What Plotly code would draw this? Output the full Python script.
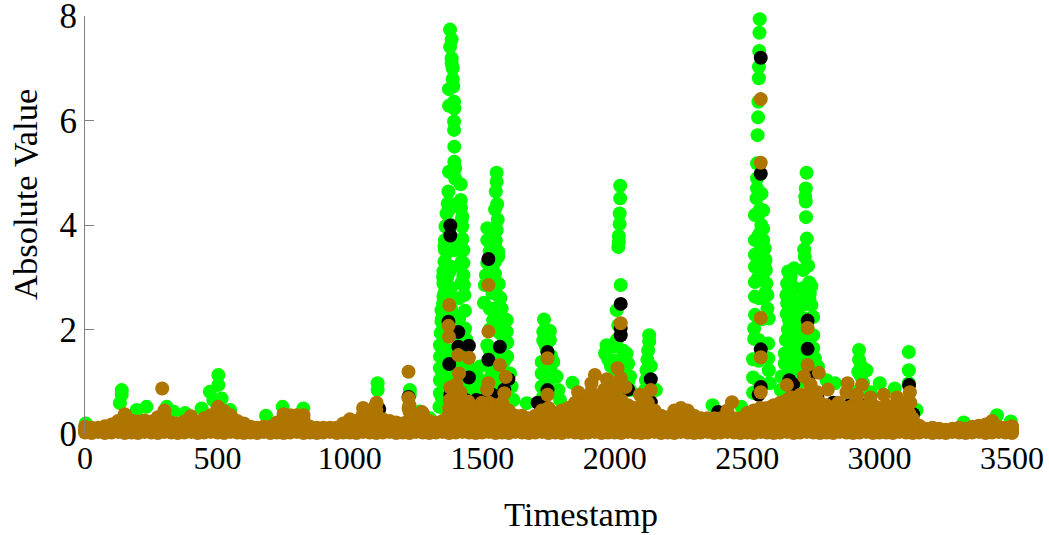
import plotly.graph_objects as go

x_ticks = [0, 500, 1000, 1500, 2000, 2500, 3000, 3500]
y_ticks = [0, 2, 4, 6, 8]

# Calibration between the pixel scale the readings were taken with and the ticks of the reference.
x_calibration = 1.0053

green_x = [1371,1377,1371,1377,1377,1381,1381,1383,1367,1386,1387,1367,1386,1386,1387,1387,1390,1367,1390,1411,1365,1362,1358,1354,1352,1352,1352,1346,1346,1346,1339,1339,1336,1333,1333,1333,1333,1333,1331,
 1411,1412,1417,1417,1417,1421,1390,1421,1408,1421,1423,1425,1427,1393,1427,1433,1396,1440,1483,1483,1483,1358,1358,1358,1360,1365,1400,1455,1470,
 1546,1546,1543,1548,1550,1511,1546,1511,1543,1552,1552,1511,1506,1540,1554,1502,1555,1498,1521,1533,1574,1584,1584,1586,1511,1586,1558,1596,1602,1609,1540,1520,1530,1535,1525,1560,1570,
 1724,1746,1721,1721,1746,1734,1715,1759,1715,1771,1715,1778,1721,1784,1659,1831,1730,1740,
 2010,2010,2008,2008,2005,2005,2003,2012,1997,2003,2034,1959,1953,1965,2040,2047,2047,1997,1984,2020,2015,1975,
 2119,2119,2115,2112,2109,2107,2103,2144,2125,
 2534,2533,2532,2531,2531,2529,2528,2526,2524,2524,2524,2522,2541,2547,2516,2547,2516,2547,2516,2553,2516,2556,2516,2557,2516,2559,2516,2563,2513,2563,2513,2568,2509,2566,2509,2566,2509,2568,2572,2534,2534,2534,2540,2535,2530,
 2641,2663,2637,2666,2634,2637,2666,2644,2672,2666,2632,2666,2628,2628,2672,2616,2613,2650,2650,2650,2645,2640,
 2710,2707,2705,2707,2708,2711,2701,2703,2716,2697,2728,2722,2728,2697,2735,2735,2735,2741,2685,2753,2700,2700,2720,
 2907,2907,2904,2935,2922,2816,2785,2985,3041,3094,3094,3094,3123,2357,2465,2870,2950,
 3,138,138,131,194,231,332,376,438,469,501,501,513,545,680,742,820,1099,1099,1220,1220,1258,307,482,1270,1295,3300,3425,3477]
green_y = [7.74,7.55,7.41,7.19,7.09,7.0,6.79,6.65,6.6,6.36,6.23,6.28,5.98,5.82,5.5,5.21,5.08,5.02,4.89,4.78,4.64,4.41,4.22,3.97,3.71,3.52,3.3,3.11,2.88,2.63,2.37,2.15,1.93,1.7,1.48,1.26,1.03,.78,.52,
 4.48,4.32,4.16,3.97,3.74,3.52,3.52,3.27,3.2,3.04,2.85,2.66,2.36,2.24,2.02,1.8,1.58,1.29,1.29,1.03,.78,3.0,2.5,2.0,1.5,1.0,1.2,.95,.85,
 5.0,4.83,4.64,4.4,4.1,3.94,3.9,3.71,3.7,3.49,3.39,3.27,3.04,3.07,2.87,2.85,2.63,2.51,2.4,2.18,2.21,2.18,1.96,1.75,1.7,1.48,1.93,1.16,.91,.65,1.29,3.0,2.7,1.5,1.1,2.6,1.0,
 2.19,1.97,1.96,1.79,1.8,1.61,1.38,1.38,1.16,1.1,.91,.84,.72,.65,.59,.98,1.3,1.0,
 4.75,4.51,4.22,4.02,3.79,3.68,3.58,2.85,2.37,2.08,1.54,1.7,1.54,1.43,1.35,1.1,.84,1.8,1.67,1.6,1.2,1.3,
 1.89,1.77,1.6,1.42,1.22,1.03,.84,.84,1.3,
 7.94,7.68,7.33,7.03,6.81,6.36,6.06,5.72,5.18,4.89,4.7,4.51,4.6,4.28,4.19,3.93,3.71,3.71,3.43,3.55,3.2,3.33,2.91,3.14,2.63,2.88,2.28,2.66,2.02,2.4,1.82,2.21,1.43,1.73,1.08,1.45,.79,1.22,.97,3.84,3.5,3.2,4.0,4.3,3.0,
 3.11,3.17,2.88,2.79,2.66,2.5,2.53,2.18,2.28,2.02,1.8,1.73,1.54,1.35,1.35,1.1,.84,2.9,2.4,1.6,1.2,2.0,
 5.0,4.7,4.54,4.45,4.15,3.74,3.53,3.39,3.22,3.14,2.83,2.69,2.47,2.47,2.24,1.89,1.64,1.45,1.93,1.29,2.8,2.2,2.6,
 1.61,1.42,1.19,1.22,.97,.97,1.03,.97,.87,1.57,1.22,.97,.46,.55,.52,.85,.8,
 .2,.84,.75,.59,.46,.52,.43,.4,.49,.81,1.13,.94,.68,.46,.35,.52,.49,.97,.84,.84,.75,.43,.52,.65,.35,.3,.22,.36,.24]

green_body_x = [1345,1345,1345,1345,1345,1345,1340,1340,1340,1340,1350,1350,1350,1350,1350,1360,1360,1360,1360,1360,1360,1360,1360,1368,1368,1368,1368,1368,1368,
 1375,1375,1375,1375,1375,1375,1375,1375,1375,1375,1405,1405,1405,1405,1405,1415,1415,1415,1415,1440,1470,1500,1425,1425,1445,
 1520,1520,1520,1520,1520,1520,1540,1540,1540,1540,1540,1540,1540,1540,1540,1565,1565,1565,1565,1565,1590,1530,1530,1530,1575,1575,
 1730,1730,1730,1730,1730,1750,1750,1750,1990,1990,1990,2020,2020,2020,2040,
 2530,2530,2530,2530,2530,2530,2530,2530,2530,2545,2545,2545,2545,2555,
 2650,2650,2650,2650,2650,2650,2635,2635,2660,2660,2660,2660,2680,2680,
 2700,2700,2700,2700,2700,2720,2720,2720,2720,2915,2915]
green_body_y = [.5,1,1.5,2,2.5,3,.7,1.2,1.7,2.2,2.4,2.7,3.0,3.3,3.6,.5,1,1.5,2,2.5,3,3.5,4,2.3,2.7,3.1,3.5,3.9,4.3,
 .8,1.2,1.6,2.0,2.4,2.8,3.2,3.6,4.0,4.4,1,1.4,1.8,2.2,2.6,2.9,3.3,3.7,4.1,1.0,1.1,1.0,1.5,2.0,.85,
 1,1.3,1.6,2,2.4,3.5,.8,1.2,1.6,2,2.4,2.8,3.3,3.6,4.3,1,1.3,1.6,2,2.4,.9,3.2,2.0,1.2,1.8,1.4,
 .8,1.1,1.4,1.7,2,.8,1.2,1.5,.8,1.1,1.4,.8,1.1,1.4,1.0,
 4.2,3.8,3.4,3,2.6,2.2,1.8,1.4,1,3.4,3,2.6,2.2,2.7,
 3,2.6,2.2,1.8,1.4,1,2.3,1.5,2.3,1.9,1.5,1.1,1.6,1.2,
 2.6,2.2,1.8,1.4,1,2.9,2.2,1.8,1.4,1.3,1.1]

black_x = [1372,1372,1365,1402,1402,1442,1368,1442,1515,1558,1515,1737,1737,2012,2012,2012,2125,2125,1215,2538,2538,2538,2538,2714,2714,2645,3095,2378,
 1372,1430,1470,1500,1530,1575,1590,1700,1880,1980,2040,2100,2600,2660,2720,2750,2810,2870,2920,3110,1050,1105,2530,1720]
black_y = [3.99,3.8,2.15,1.95,1.67,1.69,1.34,1.08,3.35,1.67,1.42,1.57,.84,2.49,2.03,1.89,1.05,.61,.71,7.2,4.98,1.62,.9,2.17,1.63,1.03,.94,.42,
 .75,.65,.65,.65,.75,.85,1.05,.6,.6,.75,.85,.5,.55,.95,1.12,.72,.6,.55,.55,.38,.38,.48,.75,.6]

base_x = [0,25,50,75,100,125,150,175,200,225,250,275,300,325,350,375,400,425,450,475,500,525,550,575,600,625,650,675,700,725,750,775,800,825,850,875,900,925,950,975,1000,1025,1050,1075,1100,1125,1150,1175,1200,1225,1250,1275,1300,1325,1350,1375,1400,1425,1450,1475,1500,1525,1550,1575,1600,1625,1650,1675,1700,1725,1750,1775,1800,1825,1850,1875,1900,1925,1950,1975,2000,2025,2050,2075,2100,2125,2150,2175,2200,2225,2250,2275,2300,2325,2350,2375,2400,2425,2450,2475,2500,2525,2550,2575,2600,2625,2650,2675,2700,2725,2750,2775,2800,2825,2850,2875,2900,2925,2950,2975,3000,3025,3050,3075,3100,3125,3150,3175,3200,3225,3250,3275,3300,3325,3350,3375,3400,3425,3450,3475,3500]
base_y = [.03,.02,.04,.02,.03,.04,.02,.03,.02,.04,.03,.02,.04,.03,.02,.03,.04,.02,.03,.04,.03,.02,.04,.03,.02,.03,.02,.04,.02,.03,.02,.03,.04,.02,.03,.02,.03,.04,.02,.03,.03,.02,.04,.03,.02,.03,.04,.02,.03,.02,.04,.03,.02,.03,.04,.02,.03,.04,.03,.02,.03,.04,.02,.03,.02,.04,.03,.02,.03,.04,.02,.03,.02,.04,.03,.02,.03,.04,.02,.03,.03,.02,.04,.03,.02,.03,.04,.02,.03,.02,.04,.03,.02,.03,.04,.02,.03,.04,.03,.02,.03,.02,.04,.03,.02,.03,.04,.02,.03,.04,.03,.02,.03,.02,.04,.03,.02,.03,.04,.02,.03,.03,.02,.04,.03,.02,.03,.04,.02,.03,.02,.04,.03,.02,.03,.04,.02,.03,.04,.03,.02]
top_y = [.14,.12,.12,.15,.18,.25,.38,.26,.24,.26,
 .24,.32,.45,.22,.2,.24,.34,.2,.3,.36,
 .5,.44,.36,.25,.2,.14,.12,.14,.14,.22,
 .38,.36,.36,.36,.14,.12,.12,.12,.12,.2,
 .28,.25,.5,.42,.58,.28,.25,.22,.2,.55,
 .3,.4,.25,.22,.25,.5,.6,.55,.5,.45,
 .5,.6,.55,.6,.45,.35,.35,.3,.35,.45,
 .5,.4,.45,.5,.6,.55,.7,.65,.75,.7,
 .7,.65,.55,.5,.55,.6,.45,.35,.32,.45,
 .5,.45,.35,.3,.3,.3,.3,.45,.3,.3,
 .4,.45,.5,.5,.55,.6,.65,.7,.75,.75,
 .65,.6,.55,.5,.55,.5,.55,.55,.5,.55,
 .5,.55,.5,.55,.6,.3,.16,.1,.12,.1,
 .08,.1,.12,.1,.14,.16,.18,.25,.14,.12,.15]
upper_y = [.1,.09,.09,.11,.13,.19,.3,.2,.18,.2,
 .18,.25,.35,.17,.15,.18,.26,.15,.23,.28,
 .39,.34,.28,.19,.15,.1,.09,.1,.1,.17,
 .3,.28,.28,.28,.1,.09,.09,.09,.09,.15,
 .22,.19,.39,.33,.45,.22,.19,.17,.15,.43,
 .23,.31,.19,.17,.19,.39,.47,.43,.39,.35,
 .39,.47,.43,.47,.35,.27,.27,.23,.27,.35,
 .39,.31,.35,.39,.47,.43,.55,.5,.58,.55,
 .55,.5,.43,.39,.43,.47,.35,.27,.25,.35,
 .39,.35,.27,.23,.23,.23,.23,.35,.23,.23,
 .31,.35,.39,.39,.43,.47,.5,.55,.58,.58,
 .5,.47,.43,.39,.43,.39,.43,.43,.39,.43,
 .39,.43,.39,.43,.47,.23,.12,.08,.09,.08,
 .06,.08,.09,.08,.1,.12,.14,.19,.1,.09,.11]
mid_y = [.08,.07,.07,.08,.1,.13,.2,.14,.12,.14,
 .13,.17,.24,.12,.11,.13,.18,.11,.16,.19,
 .26,.23,.19,.14,.11,.08,.07,.08,.08,.12,
 .2,.19,.19,.19,.08,.07,.07,.07,.07,.11,
 .15,.14,.26,.22,.3,.15,.14,.12,.11,.28,
 .16,.21,.14,.12,.14,.26,.31,.28,.26,.24,
 .26,.31,.28,.31,.24,.19,.19,.16,.19,.24,
 .26,.21,.24,.26,.31,.28,.36,.34,.38,.36,
 .36,.34,.28,.26,.28,.31,.24,.19,.17,.24,
 .26,.24,.19,.16,.16,.16,.16,.24,.16,.16,
 .21,.24,.26,.26,.28,.31,.34,.36,.38,.38,
 .34,.31,.28,.26,.28,.26,.28,.28,.26,.28,
 .26,.28,.26,.28,.31,.16,.09,.06,.07,.06,
 .05,.06,.07,.06,.08,.09,.1,.13,.08,.07,.08]
low_y = [.05,.05,.05,.05,.06,.08,.11,.08,.07,.08,
 .08,.1,.13,.07,.07,.08,.1,.07,.09,.11,
 .14,.13,.11,.08,.07,.05,.05,.05,.05,.07,
 .11,.11,.11,.11,.05,.05,.05,.05,.05,.07,
 .09,.08,.14,.12,.16,.09,.08,.07,.07,.15,
 .09,.12,.08,.07,.08,.14,.17,.15,.14,.13,
 .14,.17,.15,.17,.13,.11,.11,.09,.11,.13,
 .14,.12,.13,.14,.17,.15,.2,.18,.21,.2,
 .2,.18,.15,.14,.15,.17,.13,.11,.1,.13,
 .14,.13,.11,.09,.09,.09,.09,.13,.09,.09,
 .12,.13,.14,.14,.15,.17,.18,.2,.21,.21,
 .18,.17,.15,.14,.15,.14,.15,.15,.14,.15,
 .14,.15,.14,.15,.17,.09,.06,.05,.05,.05,
 .05,.05,.05,.05,.05,.06,.06,.08,.05,.05,.05]

brown_x = [290,1215,1215,1215,1265,1368,1365,1367,1402,1442,1405,1372,1395,1440,1410,1515,1515,1515,1510,1558,1580,1575,1490,1737,1737,1852,1902,1915,1960,2000,2012,2012,2084,2125,
 2538,2538,2538,2538,2538,2714,2714,2756,2636,2864,2918,3098,2430,3050,2790,2700,2650,2750,2680,2725,2830,2860,2900,2950,3000,3100,3095,
 1050,1095,1085,500,505,140,1370,1400,1430,1480,1520,1545,1570,1900,1950,1990,2030,2000,1970,2125]
brown_y = [.87,1.19,.69,.5,.42,2.47,2.07,1.86,1.51,1.46,1.16,.89,.95,.62,.8,2.85,1.96,.97,.85,1.32,1.09,.78,.6,1.45,.75,.8,.97,1.13,1.05,1.26,2.12,1.07,.75,.84,
 6.41,5.19,2.22,1.47,.8,2.03,1.32,1.17,.94,.97,.94,.8,.61,.7,.85,1.1,.7,.8,.6,.95,.6,.8,.75,.7,.75,.6,.4,
 .4,.6,.5,.52,.35,.25,.65,.85,.35,.35,.35,.4,.4,.8,.85,.85,.9,.95,.6,.45]


def calibrated(values):
    return [v * x_calibration for v in values]


fig = go.Figure()
size = 14
fig.add_trace(go.Scatter(x=calibrated(green_x + green_body_x), y=green_y + green_body_y, mode="markers",
                         marker=dict(color="#00ff00", size=size), cliponaxis=False, showlegend=False))
fig.add_trace(go.Scatter(x=calibrated(black_x), y=black_y, mode="markers",
                         marker=dict(color="#000000", size=size), cliponaxis=False, showlegend=False))
fig.add_trace(go.Scatter(x=base_x * 5 + calibrated(brown_x), y=base_y + low_y + mid_y + upper_y + top_y + brown_y, mode="markers",
                         marker=dict(color="#ae7500", size=size), cliponaxis=False, showlegend=False))

fig.update_layout(
    width=1049, height=535, paper_bgcolor="white", plot_bgcolor="white",
    margin=dict(l=85, r=37, t=16, b=101), showlegend=False,
    font=dict(family="Liberation Serif", size=32, color="#000000"),
    xaxis=dict(range=[0, 3500], tickvals=x_ticks, showgrid=False, zeroline=False, showline=False,
               ticks="", automargin=False, ticklabelstandoff=2, ticklabeloverflow="allow",
               tickfont=dict(family="Liberation Serif", size=32)),
    yaxis=dict(range=[0, 8], tickvals=y_ticks, showgrid=False, zeroline=False, showline=True,
               linecolor="#808080", linewidth=1, ticks="inside", ticklen=9, tickcolor="#808080", tickwidth=1,
               automargin=False, ticklabelstandoff=0, ticklabeloverflow="allow",
               tickfont=dict(family="Liberation Serif", size=35)),
    annotations=[
        dict(text="Timestamp", xref="x domain", yref="y domain", x=0.535, y=-0.191, showarrow=False,
             xanchor="center", yanchor="middle", font=dict(family="Liberation Serif", size=34.5)),
        dict(text="Absolute Value", xref="x domain", yref="y domain", x=-0.0647, y=0.572, showarrow=False, textangle=-90,
             xanchor="center", yanchor="middle", font=dict(family="Liberation Serif", size=34.5)),
    ],
)
fig.write_html("out.html", config={"displayModeBar": False},
               post_script="document.body.style.margin='0';document.documentElement.style.overflow='hidden';")
